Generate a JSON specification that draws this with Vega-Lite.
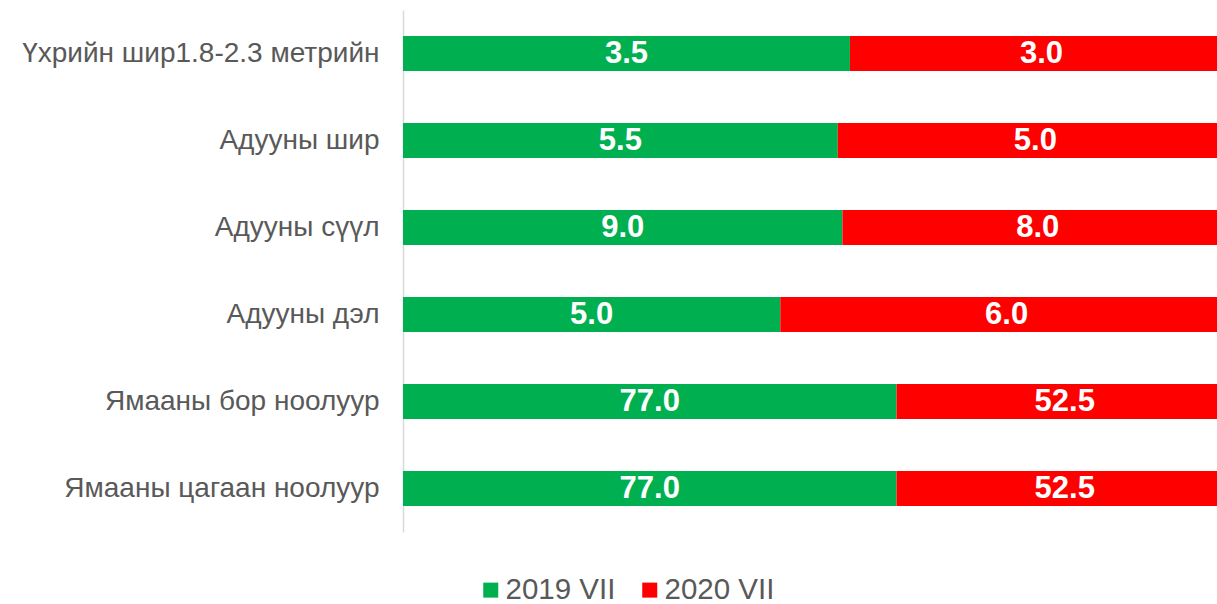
{
  "$schema": "https://vega.github.io/schema/vega-lite/v6.json",
  "width": 814,
  "height": 522,
  "autosize": {"type": "none"},
  "padding": {"left": 403, "top": 10, "right": 0, "bottom": 72},
  "config": {"view": {"stroke": null}, "font": "Liberation Sans"},
  "data": {
    "values": [
      {"category": "Үхрийн шир1.8-2.3 метрийн\u00a0", "year": "2019 VII", "value": 3.5},
      {"category": "Үхрийн шир1.8-2.3 метрийн\u00a0", "year": "2020 VII", "value": 3.0},
      {"category": "Адууны шир", "year": "2019 VII", "value": 5.5},
      {"category": "Адууны шир", "year": "2020 VII", "value": 5.0},
      {"category": "Адууны сүүл", "year": "2019 VII", "value": 9.0},
      {"category": "Адууны сүүл", "year": "2020 VII", "value": 8.0},
      {"category": "Адууны дэл", "year": "2019 VII", "value": 5.0},
      {"category": "Адууны дэл", "year": "2020 VII", "value": 6.0},
      {"category": "Ямааны бор ноолуур", "year": "2019 VII", "value": 77.0},
      {"category": "Ямааны бор ноолуур", "year": "2020 VII", "value": 52.5},
      {"category": "Ямааны цагаан ноолуур", "year": "2019 VII", "value": 77.0},
      {"category": "Ямааны цагаан ноолуур", "year": "2020 VII", "value": 52.5}
    ]
  },
  "transform": [
    {"stack": "value", "groupby": ["category"], "offset": "normalize", "sort": [{"field": "year", "order": "ascending"}], "as": ["v0", "v1"]},
    {"calculate": "(datum.v0 + datum.v1) / 2", "as": "mid"}
  ],
  "encoding": {
    "y": {
      "field": "category",
      "type": "nominal",
      "sort": null,
      "scale": {"paddingInner": 0.6, "paddingOuter": 0.3},
      "axis": {
        "title": null,
        "ticks": false,
        "grid": false,
        "domainColor": "#d9d9d9",
        "domainWidth": 1.5,
        "labelFontSize": 28,
        "labelColor": "#595959",
        "labelPadding": 24,
        "labelLimit": 0
      }
    }
  },
  "layer": [
    {
      "mark": {"type": "bar", "clip": true},
      "encoding": {
        "x": {"field": "v0", "type": "quantitative", "scale": {"domain": [0, 0.9807], "nice": false, "zero": false}, "axis": null},
        "x2": {"field": "v1"},
        "color": {
          "field": "year",
          "type": "nominal",
          "scale": {"domain": ["2019 VII", "2020 VII"], "range": ["#00b050", "#ff0000"]},
          "legend": {
            "title": null,
            "orient": "none",
            "direction": "horizontal",
            "legendX": 73,
            "legendY": 565,
            "symbolType": "square",
            "symbolSize": 225,
            "symbolStrokeWidth": 0,
            "labelFontSize": 29.5,
            "labelColor": "#595959",
            "labelOffset": 0,
            "columnPadding": 19
          }
        }
      }
    },
    {
      "mark": {"type": "text", "fontWeight": "bold", "fontSize": 31, "color": "white", "baseline": "middle"},
      "encoding": {
        "x": {"field": "mid", "type": "quantitative"},
        "text": {"field": "value", "type": "quantitative", "format": ".1f"}
      }
    }
  ]
}
